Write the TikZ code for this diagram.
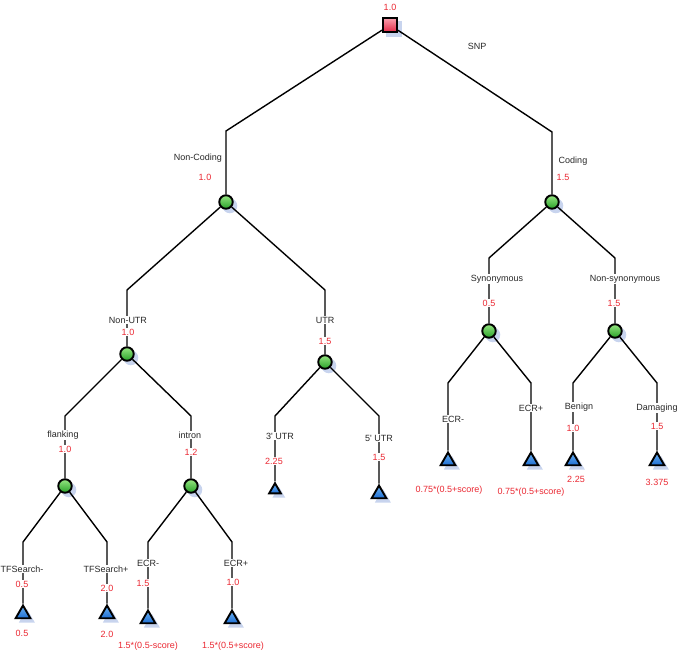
\documentclass[tikz,border=0pt]{standalone}
\usepackage{fontspec}
\setmainfont{Liberation Sans}
\usetikzlibrary{shapes.geometric,shadows}
\definecolor{valred}{RGB}{235,40,50}
\definecolor{lblgray}{RGB}{40,40,40}
\definecolor{shadowc}{RGB}{200,212,238}
\begin{document}
\begin{tikzpicture}[x=1pt,y=-1pt,
  edge/.style={draw=black,line width=1.4pt},
  myshadow/.style={drop shadow={shadow xshift=3.5pt,shadow yshift=-3.5pt,shadow scale=1.1,fill=shadowc,opacity=1}},
  sqnode/.style={rectangle,draw=black,line width=1.9pt,minimum size=14pt,inner sep=0pt,
    top color={rgb,255:red,250;green,160;blue,175},bottom color={rgb,255:red,225;green,40;blue,70},myshadow},
  dotnode/.style={circle,draw=black,line width=1.9pt,minimum size=13.5pt,inner sep=0pt,
    top color={rgb,255:red,150;green,230;blue,130},bottom color={rgb,255:red,40;green,160;blue,40},myshadow},
  trinode/.style={regular polygon,regular polygon sides=3,draw=black,line width=1.9pt,minimum size=17pt,inner sep=0pt,
    top color={rgb,255:red,110;green,180;blue,245},bottom color={rgb,255:red,30;green,110;blue,210},myshadow},
  lbl/.style={font=\fontsize{9}{10}\selectfont,text=lblgray,fill=white,inner sep=1pt},
  val/.style={lbl,text=valred}]
\useasboundingbox (0,0) rectangle (678,652);

% shapes
\node[sqnode] (root) at (390,25) {};
\node[dotnode] (nc) at (226,202) {};
\node[dotnode] (cod) at (552,202) {};
\node[dotnode] (nutr) at (127,354) {};
\node[dotnode] (utr) at (325,362) {};
\node[dotnode] (syn) at (489,331) {};
\node[dotnode] (nsyn) at (615,331) {};
\node[dotnode] (flank) at (65,486) {};
\node[dotnode] (intr) at (191,486) {};
\node[trinode,minimum size=13.5pt] (t3) at (275,490) {};
\node[trinode] (t5) at (379,494) {};
\node[trinode] (tse) at (448,461) {};
\node[trinode] (tsp) at (531,461) {};
\node[trinode] (tbe) at (573,461) {};
\node[trinode] (tda) at (657,461) {};
\node[trinode] (ttm) at (23,614) {};
\node[trinode] (ttp) at (107,614) {};
\node[trinode] (tie) at (148,619) {};
\node[trinode] (tip) at (232,619) {};

% corners
\coordinate (cNC) at (226,131);
\coordinate (cC) at (552,132);
\coordinate (cNU) at (127,290);
\coordinate (cU) at (325,290);
\coordinate (cS) at (489,258);
\coordinate (cN) at (615,258);
\coordinate (cF) at (65,416);
\coordinate (cI) at (191,416);
\coordinate (c3) at (275,416);
\coordinate (c5) at (379,416);
\coordinate (cSE) at (448,383);
\coordinate (cSP) at (531,383);
\coordinate (cBE) at (573,383);
\coordinate (cDA) at (657,383);
\coordinate (cTM) at (23,542);
\coordinate (cTP) at (107,542);
\coordinate (cIE) at (148,542);
\coordinate (cIP) at (232,542);

% connectors
\draw[edge] (root) -- (cNC) -- (nc);
\draw[edge] (root) -- (cC) -- (cod);
\draw[edge] (nc) -- (cNU) -- (nutr);
\draw[edge] (nc) -- (cU) -- (utr);
\draw[edge] (cod) -- (cS) -- (syn);
\draw[edge] (cod) -- (cN) -- (nsyn);
\draw[edge] (nutr) -- (cF) -- (flank);
\draw[edge] (nutr) -- (cI) -- (intr);
\draw[edge] (utr) -- (c3) -- (t3.north);
\draw[edge] (utr) -- (c5) -- (t5.north);
\draw[edge] (syn) -- (cSE) -- (tse.north);
\draw[edge] (syn) -- (cSP) -- (tsp.north);
\draw[edge] (nsyn) -- (cBE) -- (tbe.north);
\draw[edge] (nsyn) -- (cDA) -- (tda.north);
\draw[edge] (flank) -- (cTM) -- (ttm.north);
\draw[edge] (flank) -- (cTP) -- (ttp.north);
\draw[edge] (intr) -- (cIE) -- (tie.north);
\draw[edge] (intr) -- (cIP) -- (tip.north);

% labels
\node[val] (v_root) at (390,7) {1.0};
\node[lbl] (l_snp) at (477,46) {SNP};
\node[lbl] (l_nc) at (198,158) {Non-Coding};
\node[val] (v_nc) at (205,177) {1.0};
\node[lbl] (l_cod) at (573,161) {Coding};
\node[val] (v_cod) at (563,177) {1.5};
\node[lbl] (l_nutr) at (128,320) {Non-UTR};
\node[val] (v_nutr) at (128,332) {1.0};
\node[lbl] (l_utr) at (325,320) {UTR};
\node[val] (v_utr) at (325,341) {1.5};
\node[lbl] (l_syn) at (497,279) {Synonymous};
\node[val] (v_syn) at (489,303) {0.5};
\node[lbl] (l_nsyn) at (625,279) {Non-synonymous};
\node[val] (v_nsyn) at (614,303) {1.5};
\node[lbl] (l_fl) at (63,435) {flanking};
\node[val] (v_fl) at (65,449) {1.0};
\node[lbl] (l_in) at (190,435) {intron};
\node[val] (v_in) at (191,452) {1.2};
\node[lbl] (l_3) at (280,436) {3\textquotesingle\ UTR};
\node[val] (v_3) at (274,461) {2.25};
\node[lbl] (l_5) at (379,438) {5\textquotesingle\ UTR};
\node[val] (v_5) at (379,457) {1.5};
\node[lbl] (l_se) at (453,419) {ECR-};
\node[val] (w_se) at (449,490) {0.75*(0.5+score)};
\node[lbl] (l_sp) at (531,408) {ECR+};
\node[val] (w_sp) at (531,492) {0.75*(0.5+score)};
\node[lbl] (l_be) at (579,407) {Benign};
\node[val] (v_be) at (573,428) {1.0};
\node[val] (w_be) at (576,479) {2.25};
\node[lbl] (l_da) at (657,408) {Damaging};
\node[val] (v_da) at (657,426) {1.5};
\node[val] (w_da) at (657,482) {3.375};
\node[lbl] (l_tm) at (22,569) {TFSearch-};
\node[val] (v_tm) at (22,584) {0.5};
\node[val] (w_tm) at (22,633) {0.5};
\node[lbl] (l_tp) at (106,569) {TFSearch+};
\node[val] (v_tp) at (107,588) {2.0};
\node[val] (w_tp) at (107,634) {2.0};
\node[lbl] (l_ie) at (148,563) {ECR-};
\node[val] (v_ie) at (143,583) {1.5};
\node[val] (w_ie) at (148,646) {1.5*(0.5-score)};
\node[lbl] (l_ip) at (236,563) {ECR+};
\node[val] (v_ip) at (233,582) {1.0};
\node[val] (w_ip) at (233,646) {1.5*(0.5+score)};
\end{tikzpicture}
\end{document}
